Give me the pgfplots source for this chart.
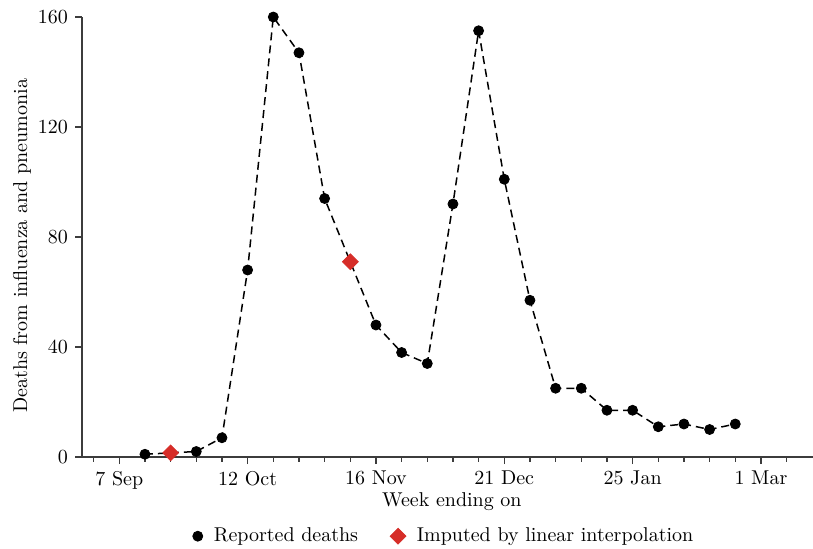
\documentclass[border=0pt]{standalone}
\usepackage{pgfplots}
\pgfplotsset{compat=1.18}
\definecolor{impred}{RGB}{214,45,40}
\definecolor{axgray}{RGB}{60,60,60}
\begin{document}
\begin{tikzpicture}
\useasboundingbox (-41pt,-45.5pt) rectangle (365.5pt,228.5pt);
\begin{axis}[
  at={(0,0)}, anchor=south west,
  scale only axis, width=365.5pt, height=220pt,
  xmin=-10.17, xmax=189.2, ymin=0, ymax=160,
  axis x line=bottom, axis y line=left,
  axis line style={-, axgray, line width=0.6pt},
  every axis x label/.style={at={(axis description cs:0.506,-0.101)}, anchor=center},
  every axis y label/.style={at={(axis description cs:-0.082,0.48)}, anchor=center, rotate=90},
  xtick={0,35,70,105,140,175},
  xticklabels={7 Sep,12 Oct,16 Nov,21 Dec,25 Jan,1 Mar},
  minor xtick={-7,0,...,182},
  ytick={0,40,80,120,160},
  tick align=outside,
  major tick length=3.5pt, minor tick length=2.3pt,
  tick style={axgray, line width=0.6pt},
  xlabel={Week ending on},
  ylabel={Deaths from influenza and pneumonia},
  clip=false,
  legend style={at={(axis description cs:0.4966,-0.18)}, anchor=center, draw=none, fill=none,
    legend columns=2,
    /tikz/every odd column/.append style={column sep=3.5pt},
    /tikz/every even column/.append style={column sep=14pt}},
  legend cell align=left,
]
\addplot[forget plot, black, line width=0.75pt, dash pattern=on 4pt off 2.5pt] coordinates {
(7,1) (14,1.5) (21,2) (28,7) (35,68) (42,160) (49,147) (56,94) (63,71) (70,48)
(77,38) (84,34) (91,92) (98,155) (105,101) (112,57) (119,25) (126,25) (133,17)
(140,17) (147,11) (154,12) (161,10) (168,12)};
\addplot[only marks, mark=*, mark size=2.5pt, black] coordinates {
(7,1) (21,2) (28,7) (35,68) (42,160) (49,147) (56,94) (70,48)
(77,38) (84,34) (91,92) (98,155) (105,101) (112,57) (119,25) (126,25) (133,17)
(140,17) (147,11) (154,12) (161,10) (168,12)};
\addlegendentry{Reported deaths}
\addplot[only marks, mark=square*, mark size=2.8pt, mark options={rotate=45}, impred] coordinates {
(14,1.5) (63,71)};
\addlegendentry{Imputed by linear interpolation}
\end{axis}
\end{tikzpicture}
\end{document}
